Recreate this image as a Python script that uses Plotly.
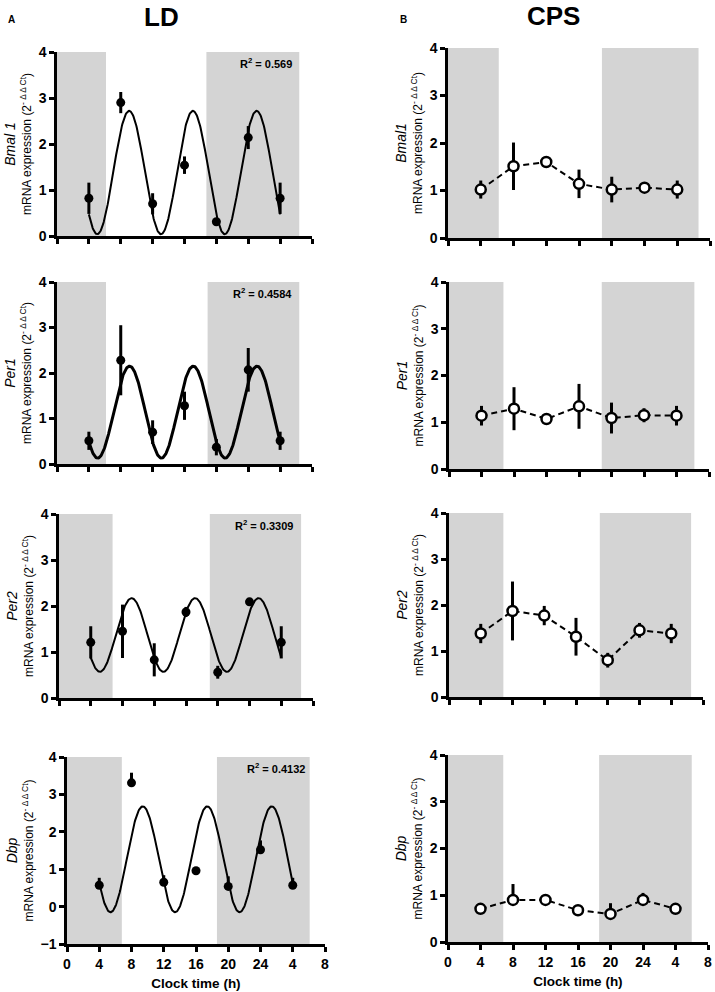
import numpy as np
import plotly.graph_objects as go

# ---------------- data ----------------
clock_time = [4, 8, 12, 16, 20, 24, 28]
x_tick_vals = [0, 4, 8, 12, 16, 20, 24, 28, 32]
x_tick_text = ["0", "4", "8", "12", "16", "20", "24", "4", "8"]

genes_ld = ["Bmal 1", "Per1", "Per2", "Dbp"]
genes_cps = ["Bmal1", "Per1", "Per2", "Dbp"]

# LD means and SEM
ld_bmal1 = [0.82, 2.90, 0.70, 1.54, 0.31, 2.14, 0.82]
ld_bmal1_err = [0.34, 0.23, 0.23, 0.19, 0.07, 0.25, 0.34]
ld_per1 = [0.51, 2.28, 0.70, 1.28, 0.37, 2.07, 0.51]
ld_per1_err = [0.20, 0.77, 0.26, 0.31, 0.18, 0.48, 0.20]
ld_per2 = [1.21, 1.45, 0.83, 1.87, 0.56, 2.09, 1.21]
ld_per2_err = [0.35, 0.58, 0.36, 0.11, 0.14, 0.06, 0.35]
ld_dbp = [0.57, 3.31, 0.65, 0.96, 0.54, 1.52, 0.57]
ld_dbp_err = [0.20, 0.27, 0.19, 0.03, 0.27, 0.25, 0.20]

# LD cosinor fit parameters
fit_mesor = [1.38, 1.14, 1.37, 1.265]
fit_amplitude = [1.34, 1.01, 0.80, 1.415]
fit_peak_time = [9.05, 9.1, 9.15, 9.4]
fit_period = [8, 8, 8, 8]
fit_r2 = ["0.569", "0.4584", "0.3309", "0.4132"]

# CPS means and SEM
cps_bmal1 = [1.02, 1.51, 1.60, 1.14, 1.02, 1.06, 1.02]
cps_bmal1_err = [0.19, 0.50, 0.05, 0.30, 0.27, 0.07, 0.19]
cps_per1 = [1.14, 1.29, 1.07, 1.34, 1.09, 1.15, 1.14]
cps_per1_err = [0.21, 0.46, 0.03, 0.48, 0.33, 0.15, 0.21]
cps_per2 = [1.38, 1.87, 1.77, 1.31, 0.80, 1.45, 1.38]
cps_per2_err = [0.21, 0.64, 0.21, 0.41, 0.16, 0.16, 0.21]
cps_dbp = [0.71, 0.90, 0.90, 0.68, 0.60, 0.90, 0.71]
cps_dbp_err = [0.02, 0.34, 0.02, 0.10, 0.23, 0.15, 0.02]

# dark phase (shaded) bands per panel [start, end, start, end] in clock-axis hours
ld_dark = [[0, 6.15, 18.75, 30.4], [0, 6.15, 18.9, 30.4], [0, 6.75, 19.0, 30.5], [0, 6.8, 18.6, 30.1]]
cps_dark = [[0, 6.2, 18.8, 30.6], [0, 6.7, 18.8, 30.2], [0, 6.85, 19.0, 30.5], [0, 6.8, 18.6, 30.0]]

ld_means = [ld_bmal1, ld_per1, ld_per2, ld_dbp]
ld_errs = [ld_bmal1_err, ld_per1_err, ld_per2_err, ld_dbp_err]
cps_means = [cps_bmal1, cps_per1, cps_per2, cps_dbp]
cps_errs = [cps_bmal1_err, cps_per1_err, cps_per2_err, cps_dbp_err]

# ---------------- layout spec (pixels in the 715x992 window) ----------------
W, H = 715, 992
left_px = [(57, 312, 52, 236), (57, 312, 282, 464), (59, 313, 514, 698), (67, 325, 757, 944)]
right_px = [(448, 710, 48, 238), (449, 709, 282, 469), (449, 703, 513, 697), (448, 708, 755, 942)]
ld_yrange = [[0, 4], [0, 4], [0, 4], [-1, 4]]
fit_width = [2, 3, 2, 2]

FONT = "Liberation Sans, Arial, sans-serif"
GRAY = "#d4d4d4"

fig = go.Figure()
layout = dict(
    width=W, height=H, margin=dict(l=0, r=0, t=0, b=0, autoexpand=False),
    plot_bgcolor="white", paper_bgcolor="white", showlegend=False,
    font=dict(family=FONT, color="black"), template="none",
)
shapes = []
annotations = []


def px_x(x):
    return x / W


def px_y(y):
    return 1 - y / H


def dom(px):
    x0, x1, y0, y1 = px
    return [px_x(x0), px_x(x1)], [px_y(y1), px_y(y0)]


def add_axes(k, px, yr, gene, bottom):
    xd, yd = dom(px)
    xs = "" if k == 1 else str(k)
    layout["xaxis" + xs] = dict(
        domain=xd, anchor="y" + xs, range=[0, 32], tickvals=x_tick_vals, ticktext=x_tick_text,
        showticklabels=bottom, ticks="outside", ticklen=5, tickwidth=2.5, tickcolor="black",
        showline=True, linewidth=2.5, linecolor="black", showgrid=False, zeroline=False,
        automargin=False,
        tickfont=dict(family=FONT, size=14, weight="bold"),
        title=dict(text="Clock time (h)" if bottom else "", font=dict(size=13.5, weight="bold"), standoff=9),
    )
    layout["yaxis" + xs] = dict(
        domain=yd, anchor="x" + xs, range=yr, dtick=1, tick0=0,
        ticks="outside", ticklen=5, tickwidth=2.5, tickcolor="black",
        showline=True, linewidth=2.5, linecolor="black", showgrid=False, zeroline=False,
        automargin=False,
        tickfont=dict(family=FONT, size=14, weight="bold"),
        title=dict(
            text=f"<span style='font-size:14px'><i>{gene}</i></span><br>mRNA expression (2<sup>- \u0394 \u0394 Ct</sup>)",
            font=dict(size=12), standoff=5,
        ),
    )
    return "x" + xs, "y" + xs


def add_dark(xa, ya, bands):
    for i in range(0, len(bands), 2):
        shapes.append(dict(type="rect", xref=xa, yref=ya + " domain", x0=bands[i], x1=bands[i + 1],
                           y0=0, y1=1, fillcolor=GRAY, line=dict(width=0), layer="below"))


# LD column
for r in range(4):
    k = r + 1
    xa, ya = add_axes(k, left_px[r], ld_yrange[r], genes_ld[r], r == 3)
    add_dark(xa, ya, ld_dark[r])
    xc = np.linspace(clock_time[0], clock_time[-1], 400)
    yc = fit_mesor[r] + fit_amplitude[r] * np.cos(2 * np.pi * (xc - fit_peak_time[r]) / fit_period[r])
    fig.add_trace(go.Scatter(x=xc, y=yc, mode="lines", xaxis=xa, yaxis=ya,
                             line=dict(color="black", width=fit_width[r]), hoverinfo="skip"))
    if genes_ld[r] == "Dbp":
        err = dict(type="data", array=ld_errs[r], arrayminus=[0] * 7, symmetric=False,
                   color="black", thickness=3, width=0)
    else:
        err = dict(type="data", array=ld_errs[r], color="black", thickness=3, width=0)
    fig.add_trace(go.Scatter(x=clock_time, y=ld_means[r], mode="markers", xaxis=xa, yaxis=ya,
                             marker=dict(color="black", size=9), error_y=err))
    annotations.append(dict(text=f"<b>R<sup>2</sup> = {fit_r2[r]}</b>", xref=xa + " domain", yref=ya + " domain",
                            x=0.93, y=0.94, xanchor="right", yanchor="middle", showarrow=False,
                            font=dict(size=11)))

# CPS column
for r in range(4):
    k = r + 5
    xa, ya = add_axes(k, right_px[r], [0, 4], genes_cps[r], r == 3)
    add_dark(xa, ya, cps_dark[r])
    if genes_cps[r] == "Dbp":
        err = dict(type="data", array=cps_errs[r], arrayminus=[0] * 7, symmetric=False,
                   color="black", thickness=3, width=0)
    else:
        err = dict(type="data", array=cps_errs[r], color="black", thickness=3, width=0)
    fig.add_trace(go.Scatter(x=clock_time, y=cps_means[r], mode="lines+markers", xaxis=xa, yaxis=ya,
                             line=dict(color="black", width=2, dash="6px,4px"),
                             marker=dict(color="white", size=10, line=dict(color="black", width=2.5)),
                             error_y=err))

# headers
annotations += [
    dict(text="<b>A</b>", x=px_x(11), y=px_y(20), xref="paper", yref="paper", showarrow=False,
         font=dict(size=10), xanchor="center", yanchor="middle"),
    dict(text="<b>LD</b>", x=px_x(161), y=px_y(17), xref="paper", yref="paper", showarrow=False,
         font=dict(size=26), xanchor="center", yanchor="middle"),
    dict(text="<b>B</b>", x=px_x(403), y=px_y(20), xref="paper", yref="paper", showarrow=False,
         font=dict(size=10), xanchor="center", yanchor="middle"),
    dict(text="<b>CPS</b>", x=px_x(553), y=px_y(16), xref="paper", yref="paper", showarrow=False,
         font=dict(size=26), xanchor="center", yanchor="middle"),
]

layout["shapes"] = shapes
layout["annotations"] = annotations
fig.update_layout(**layout)
fig.write_html("out.html", config={"displayModeBar": False},
               post_script="document.body.style.margin='0';")
